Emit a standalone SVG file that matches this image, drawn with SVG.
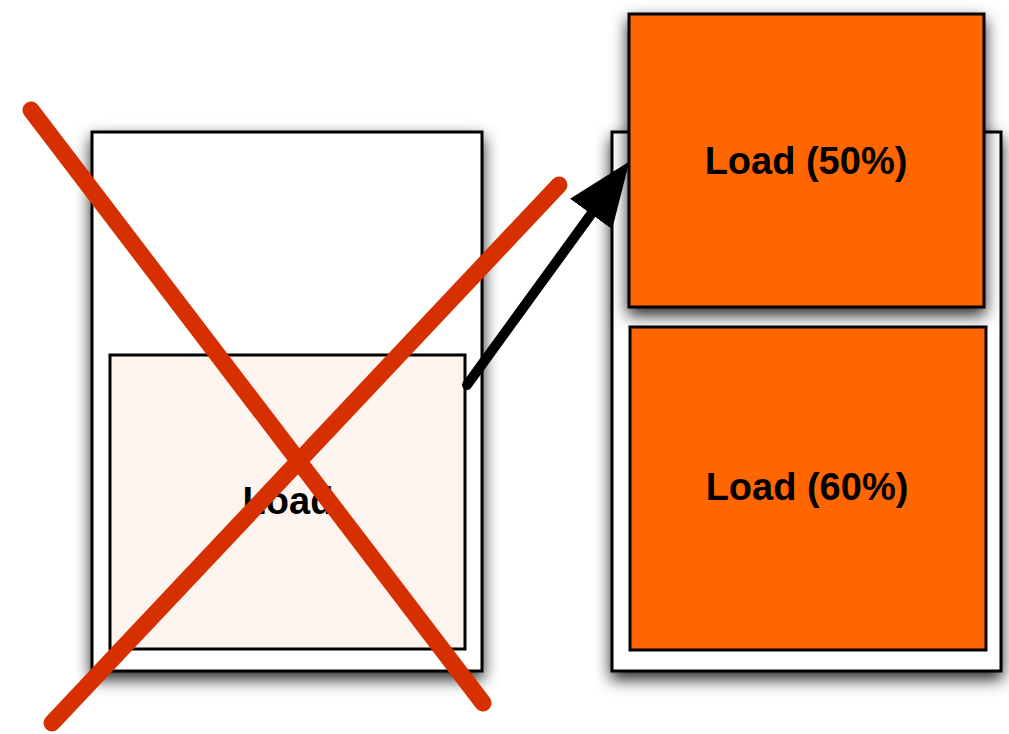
<svg xmlns="http://www.w3.org/2000/svg" width="1009" height="734" viewBox="0 0 1009 734">
  <style>
    .box { stroke: #000; stroke-width: 3; }
    .outer { fill: #ffffff; }
    .faded { fill: #fdf4f0; }
    .hot { fill: #ff6600; }
    .label { font-family: "Liberation Sans", Arial, sans-serif; font-weight: bold; font-size: 38px; fill: #000; text-anchor: middle; }
    .cross { stroke: #d63000; stroke-width: 17; stroke-linecap: round; fill: none; }
    .conn { stroke: #000; stroke-width: 10; stroke-linecap: round; fill: none; }
  </style>
  <defs>
    <filter id="shadow" x="-20%" y="-20%" width="140%" height="140%">
      <feDropShadow dx="0" dy="7" stdDeviation="8" flood-color="#000" flood-opacity="0.85"/>
    </filter>
    <marker id="head" markerUnits="userSpaceOnUse" markerWidth="66" markerHeight="54" refX="10" refY="26" orient="auto" viewBox="0 0 66 54">
      <path d="M0,0 L65,26 L0,52 Z" fill="#000"/>
    </marker>
  </defs>
  <rect width="1009" height="734" fill="#ffffff"/>

  <g id="server-right">
    <rect class="box outer" x="612" y="132" width="389" height="539" filter="url(#shadow)"/>
  </g>
  <g id="load-50">
    <rect class="box hot" x="629" y="14" width="355" height="293" filter="url(#shadow)"/>
    <text class="label" x="806" y="174">Load (50%)</text>
  </g>
  <g id="load-60">
    <rect class="box hot" x="630" y="327" width="356" height="323"/>
    <text class="label" x="807" y="500">Load (60%)</text>
  </g>

  <g id="server-left">
    <rect class="box outer" x="92" y="132" width="390" height="539" filter="url(#shadow)"/>
  </g>
  <g id="load-old">
    <rect class="box faded" x="110" y="355" width="355" height="294"/>
    <text class="label" x="288" y="514">Load</text>
  </g>

  <g id="connectors">
    <line class="conn" x1="467" y1="385" x2="597" y2="206" marker-end="url(#head)"/>
  </g>

  <g id="cross">
    <line class="cross" x1="31" y1="110" x2="483" y2="703"/>
    <line class="cross" x1="52" y1="723" x2="559" y2="185"/>
  </g>
</svg>
